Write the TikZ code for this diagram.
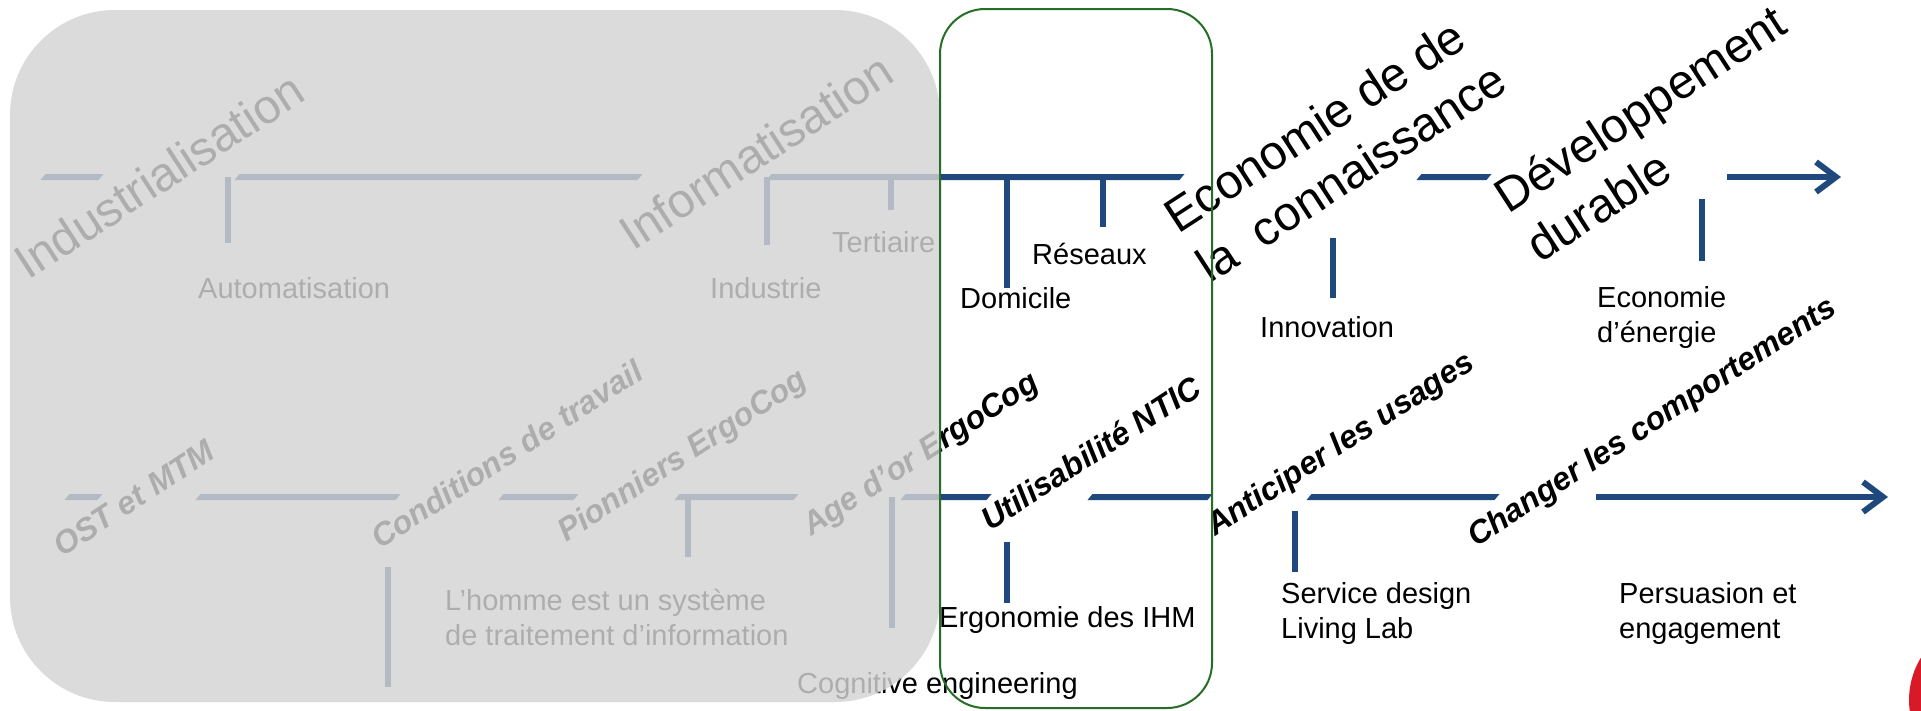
\documentclass[tikz,border=0pt]{standalone}
\usepackage{fontspec}
\setmainfont{Liberation Sans}
\usetikzlibrary{arrows.meta}
\definecolor{tlblue}{RGB}{31,73,125}
\definecolor{veilgray}{RGB}{212,212,212}
\definecolor{boxgreen}{RGB}{38,110,38}
\definecolor{logored}{RGB}{215,25,40}
\newcommand{\tlseg}[3]{\fill[tlblue] (#1+2.5,#3-3) -- (#2+2.5,#3-3) -- (#2-2.5,#3+3) -- (#1-2.5,#3+3) -- cycle;}

\begin{document}
\begin{tikzpicture}[x=1pt,y=-1pt,
  axis/.style={draw=tlblue,line width=6pt},
  tick/.style={draw=tlblue,line width=6pt},
  lbl/.style={anchor=base west,inner sep=0pt,align=left,font=\fontsize{29}{35}\selectfont},
  era/.style={anchor=base west,inner sep=0pt,align=left,rotate=33,font=\fontsize{48}{59}\selectfont},
  phase/.style={anchor=base west,inner sep=0pt,rotate=33,font=\fontsize{32}{38}\selectfont\bfseries\itshape}]
\useasboundingbox (0,0) rectangle (1921,710);
\fill[white] (0,0) rectangle (1921,710);

\tlseg{43}{101}{177}
\tlseg{237}{640}{177}
\tlseg{769}{1182}{177}
\tlseg{1419}{1489}{177}
\draw[axis,-{Straight Barb[length=20pt,width=30pt]}] (1727,177) -- (1841,177);
\draw[tick] (228,177) -- (228,243);
\draw[tick] (767,177) -- (767,245);
\draw[tick] (891,177) -- (891,210);
\draw[tick] (1007,177) -- (1007,288);
\draw[tick] (1103,177) -- (1103,227);
\draw[tick] (1333,238) -- (1333,298);
\draw[tick] (1702,199) -- (1702,261);

\tlseg{67}{100}{497}
\tlseg{198}{398}{497}
\tlseg{501}{576}{497}
\tlseg{677}{796}{497}
\tlseg{903}{989}{497}
\tlseg{1090}{1210}{497}
\tlseg{1309}{1497}{497}
\draw[axis,-{Straight Barb[length=20pt,width=30pt]}] (1596,497) -- (1888,497);
\draw[tick] (388,567) -- (388,687);
\draw[tick] (688,497) -- (688,557);
\draw[tick] (892,497) -- (892,628);
\draw[tick] (1007,542) -- (1007,603);
\draw[tick] (1295,511) -- (1295,572);

\node[era] (ind) at (28,281) {Industrialisation};
\node[era] (info) at (633,252) {Informatisation};
\node[era] (eco) at (1210,284) {Economie de de\\la~~connaissance};
\node[era] (dev) at (1540,264) {Développement\\durable};

\node[lbl] (auto) at (198,298) {Automatisation};
\node[lbl] (indus) at (710,298) {Industrie};
\node[lbl] (tert) at (832,252) {Tertiaire};
\node[lbl] (dom) at (960,308) {Domicile};
\node[lbl] (res) at (1032,264) {Réseaux};
\node[lbl] (innov) at (1260,337) {Innovation};
\node[lbl] (ener) at (1597,342) {Economie\\d'énergie};

\node[phase] (ost) at (62,558) {OST et MTM};
\node[phase] (cond) at (380,550) {Conditions de travail};
\node[phase] (pion) at (566,543) {Pionniers ErgoCog};
\node[phase] (age) at (811,537) {Age d'or ErgoCog};
\node[phase] (util) at (990,532) {Utilisabilité NTIC};
\node[phase] (antic) at (1215,537) {Anticiper les usages};
\node[phase] (chang) at (1476,548) {Changer les comportements};

\node[lbl] (homme) at (445,645) {L'homme est un système\\de traitement d'information};
\node[lbl] (cogeng) at (797,693) {Cognitive engineering};
\node[lbl] (ergo) at (939,627) {Ergonomie des IHM};
\node[lbl] (serv) at (1281,638) {Service design\\Living Lab};
\node[lbl] (pers) at (1619,638) {Persuasion et\\engagement};

\fill[veilgray,fill opacity=0.82,rounded corners=105pt] (10,10) rectangle (940,702);
\draw[boxgreen,line width=2pt,rounded corners=45pt] (940,9) rectangle (1212,708);
\fill[logored] (1990,700) circle (81);
\end{tikzpicture}
\end{document}
